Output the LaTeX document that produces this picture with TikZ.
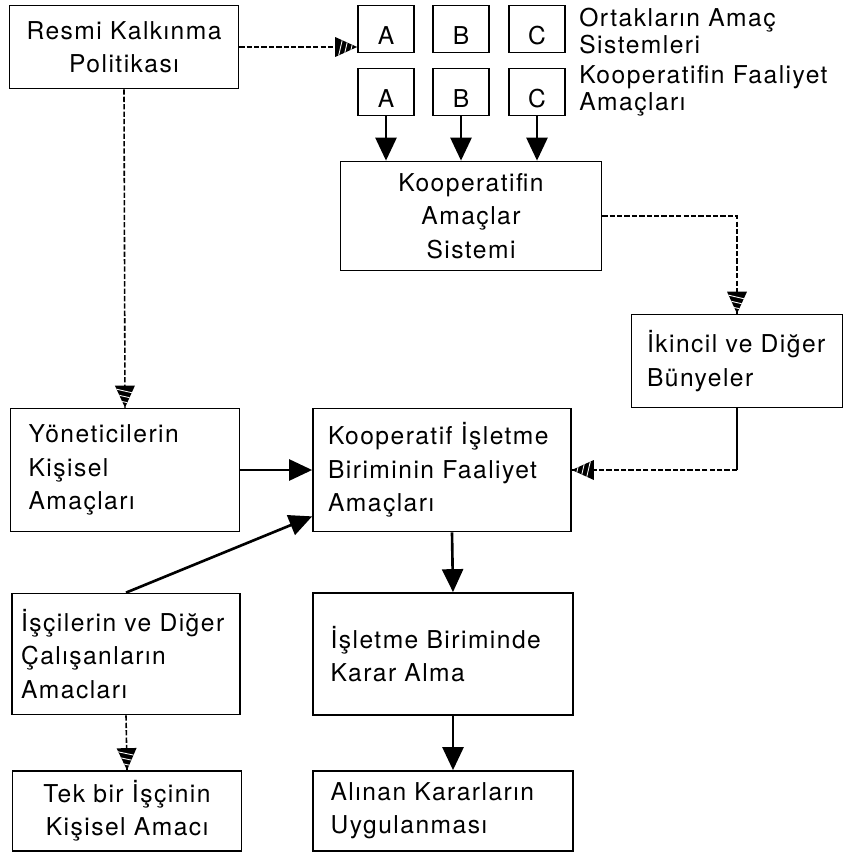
\documentclass[tikz,border=0pt]{standalone}
\usepackage{fontspec}
\setmainfont{TeX Gyre Heros}[LetterSpace=6]
\usetikzlibrary{arrows.meta, positioning, decorations.markings}

\begin{document}
\begin{tikzpicture}[
  x=0.02cm, y=-0.02cm,
  font=\fontsize{14}{19}\selectfont,
  box/.style={draw, line width=1pt, inner sep=0pt, align=center},
  lbox/.style={box, align=left},
  letterbox/.style={box, minimum width=1.12cm, minimum height=0.94cm, text height=0.62cm, text depth=0pt},
  sidetext/.style={anchor=west, align=left, inner sep=0pt, font=\fontsize{14}{15.5}\selectfont},
  sline/.style={line width=1.5pt, -{Triangle[length=0.46cm,width=0.42cm]}},
  hatchtip/.style={postaction={decorate, decoration={markings, mark=at position 1 with {
    \begin{scope}[solid]
      \clip (0,0) -- (-0.44cm,0.2cm) -- (-0.44cm,-0.2cm) -- cycle;
      \fill[black] (-0.5cm,-0.3cm) rectangle (0.1cm,0.3cm);
      \foreach \s in {-0.40,-0.29,-0.18}
        \draw[white, line width=0.5pt] (\s cm,-0.3cm) -- ++(0.14cm,0.6cm);
    \end{scope}}}}},
  dline/.style={line width=0.9pt, dash pattern=on 3pt off 1.2pt, hatchtip}
]
  \useasboundingbox (0,0) rectangle (845,855);

  % upper part
  \node[box, minimum width=4.58cm, minimum height=1.66cm] (res) at (124,47) {Resmi Kalkınma\\Politikası};
  \node[letterbox] (oA) at (386,29) {A};
  \node[letterbox] (oB) at (461,29) {B};
  \node[letterbox] (oC) at (537,29) {C};
  \node[letterbox] (fA) at (386,92) {A};
  \node[letterbox] (fB) at (461,92) {B};
  \node[letterbox] (fC) at (537,92) {C};
  \node[sidetext] (ortak) at (579,31) {Ortakların Amaç\\Sistemleri};
  \node[sidetext] (faal) at (579,91) {Kooperatifin Faaliyet\\Amaçları};
  \node[box, minimum width=5.22cm, minimum height=2.18cm] (koop) at (471,216) {Kooperatifin\\Amaçlar\\Sistemi};
  \node[lbox, minimum width=4.22cm, minimum height=1.86cm, text width=3.6cm] (ik) at (737,361) {İkincil ve Diğer\\Bünyeler};

  % lower part
  \node[lbox, minimum width=4.58cm, minimum height=2.46cm, text width=3.86cm] (yon) at (125,470) {Yöneticilerin\\Kişisel\\Amaçları};
  \node[lbox, minimum width=5.16cm, minimum height=2.46cm, text width=4.56cm] (isl) at (442,470) {Kooperatif İşletme\\Biriminin Faaliyet\\Amaçları};
  \node[lbox, minimum width=4.56cm, minimum height=2.42cm, text width=4.2cm] (isci) at (126,654) {İşçilerin ve Diğer\\Çalışanların\\Amacları};
  \node[lbox, minimum width=5.2cm, minimum height=2.44cm, text width=4.5cm] (karar) at (443,654) {İşletme Biriminde\\Karar Alma};
  \node[box, minimum width=4.58cm, minimum height=1.6cm] (tek) at (127,811) {Tek bir İşçinin\\Kişisel Amacı};
  \node[lbox, minimum width=5.2cm, minimum height=1.6cm, text width=4.5cm] (alin) at (443,811) {Alınan Kararların\\Uygulanması};
  \coordinate (ikturn) at (ik.south |- isl.east);

  % connectors
  \draw[dline] (res.east) -- (res.east -| oA.west);
  \draw[dline] (res.south) -- (yon.north);
  \foreach \n in {fA,fB,fC}
    \draw[sline] (\n.south) -- (\n.south |- koop.north);
  \draw[dline] (koop.east) -| (ik.north);
  \draw[line width=0.9pt] (ik.south) -- (ikturn);
  \draw[dline] (ikturn) -- (isl.east);
  \draw[sline] (yon.east) -- (isl.west);
  \draw[sline] (isci.north) -- ([yshift=0.32cm]isl.south west);
  \draw[sline] ([xshift=0.2cm]isl.south) -- ([xshift=0.2cm]karar.north);
  \draw[sline] ([xshift=0.2cm]karar.south) -- ([xshift=0.2cm]alin.north);
  \draw[dline] (isci.south) -- (tek.north);
\end{tikzpicture}
\end{document}
